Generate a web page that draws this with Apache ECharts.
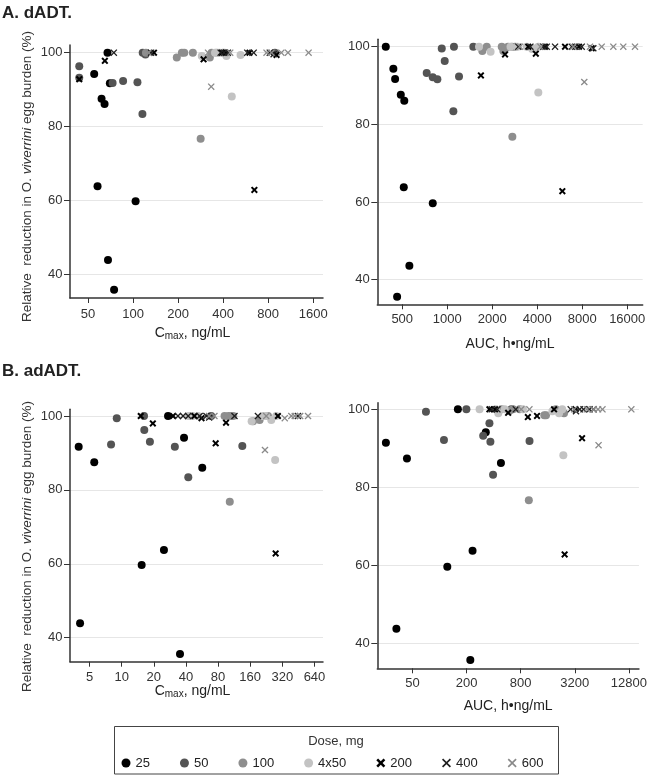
<!DOCTYPE html>
<html><head><meta charset="utf-8">
<script src="https://cdn.jsdelivr.net/npm/echarts@6/dist/echarts.min.js"></script>
<style>html,body{margin:0;padding:0;background:#fff}#c{width:650px;height:777px}</style>
</head><body><div id="c"></div>
<script>
// ---- categories ----
const doseLabels = ['25', '50', '100', '4x50', '200', '400', '600'];
// ---- tick labels ----
const ticksACmax = [50, 100, 200, 400, 800, 1600];
const ticksAAuc = [500, 1000, 2000, 4000, 8000, 16000];
const ticksBCmax = [5, 10, 20, 40, 80, 160, 320, 640];
const ticksBAuc = [50, 200, 800, 3200, 12800];
const yTicks = [40, 60, 80, 100];

// ---- A. dADT, Cmax (ng/mL) vs relative reduction (%) ----
const aCmax25 = [[67.5,100],[55,94.2],[70,91.7],[61.6,87.5],[64.5,86.1],[57.9,63.8],[104,59.7],[68,43.8],[74.7,35.7]];
const aCmax50 = [[116,100],[888,100],[121,99.5],[43.7,96.3],[43.7,93.2],[73,91.8],[85.8,92.3],[107,92.0],[115.5,83.4]];
const aCmax100 = [[122,100],[196,98.7],[212,100],[220,100],[251,100],[326,98.7],[335,100],[400,100],[283,76.7]];
const aCmax4x50 = [[288,99.1],[353,100],[365,100],[378,100],[421,99.1],[523,99.4],[457,88.1],[360,100],[410,100]];
const aCmax200 = [[43.7,92.8],[64.8,97.8],[138,100],[296,98.2],[392,100],[415,100],[600,100],[910,99.4],[647,62.8]];
const aCmax400 = [[74.4,100],[132,100],[385,100],[405,100],[580,100],[640,100],[820,100],[870,99.6],[430,100]];
const aCmax600 = [[127,100],[317,100],[333,90.8],[446,100],[780,100],[842,100],[980,100],[1085,100],[1490,100]];

// ---- A. dADT, AUC (h*ng/mL) ----
const aAuc25 = [[388,100],[436,94.3],[448,91.7],[489,87.6],[516,86.1],[512,63.8],[800,59.7],[558,43.6],[462,35.6]];
const aAuc50 = [[729,93.2],[800,92.1],[859,91.6],[919,99.5],[962,96.3],[1109,100],[1099,83.4],[1199,92.3],[1495,100]];
const aAuc100 = [[1838,100],[1717,98.9],[2374,98.9],[2315,100],[2551,100],[2713,100],[2842,100],[2727,76.8],[2450,99.5]];
const aAuc4x50 = [[1632,100],[1950,98.7],[2650,100],[3403,100],[3867,99.5],[4068,100],[3700,99.4],[4068,88.2],[2950,100]];
const aAuc200 = [[1680,92.6],[2436,98.0],[3915,98.2],[3485,100],[4510,100],[6137,100],[7615,100],[5890,62.8],[9260,99.6]];
const aAuc400 = [[2990,100],[3600,100],[4400,100],[4630,100],[5264,100],[6810,100],[7940,100],[9490,99.6],[7200,100]];
const aAuc600 = [[3070,100],[4200,100],[6975,100],[8260,90.9],[9020,100],[10800,100],[12920,100],[15060,100],[18040,100]];

// ---- B. adADT, Cmax ----
const bCmax25 = [[3.96,91.7],[5.54,87.5],[15.4,59.7],[24.9,63.7],[38.4,94.1],[56.9,86.0],[4.08,43.9],[35.2,35.6],[27.2,100]];
const bCmax50 = [[9.0,99.4],[7.96,92.3],[16.2,100],[16.3,96.2],[18.4,93.0],[31.5,91.7],[42.1,83.4],[135,91.9],[69,100]];
const bCmax100 = [[45,100],[92,100],[100,100],[105,100],[111,100],[235,100],[170,98.6],[196,98.9],[103,76.8]];
const bCmax4x50 = [[42,100],[46,100],[52,100],[165,98.6],[210,100],[252,98.9],[274,88.1],[225,100],[280,100]];
const bCmax200 = [[15.1,100],[19.6,98.0],[30.3,100],[56,99.4],[76,92.6],[95,98.2],[277,62.8],[291,100],[48,100]];
const bCmax400 = [[33.7,100],[37.6,100],[53.8,100],[62.2,100],[114,100],[189,100],[448,100],[42,100],[66,99.6]];
const bCmax600 = [[66,100],[74,100],[226,100],[220,90.8],[337,99.4],[388,100],[418,100],[470,100],[557,100]];

// ---- B. adADT, AUC ----
const bAuc25 = [[25.3,91.4],[43.4,87.4],[33.1,43.7],[122,59.6],[233,63.7],[220,35.7],[327,94.1],[482,86.2],[160,100]];
const bAuc50 = [[70.6,99.4],[112,92.1],[199,100],[306,93.2],[359,96.4],[368,91.7],[394,83.2],[1003,91.9],[630,100]];
const bAuc100 = [[489,100],[600,99.6],[658,100],[779,100],[1465,98.5],[1530,98.5],[1963,100],[2427,99],[985,76.7]];
const bAuc4x50 = [[279,100],[420,100],[450,99],[530,100],[847,100],[2139,99],[2320,100],[2385,88.2],[1800,99.5]];
const bAuc200 = [[359,100],[414,100],[580,99.1],[961,98.0],[1215,98.3],[1880,100],[2465,62.8],[3254,100],[3854,92.6]];
const bAuc400 = [[381,100],[440,100],[705,100],[2880,100],[3630,100],[4000,100],[4670,100],[5170,100],[3300,99.5]];
const bAuc600 = [[811,100],[1000,100],[3140,100],[4350,100],[5190,100],[5800,100],[5880,90.8],[6500,100],[13620,100]];

const panelData = [
  [aCmax25, aCmax50, aCmax100, aCmax4x50, aCmax200, aCmax400, aCmax600],
  [aAuc25, aAuc50, aAuc100, aAuc4x50, aAuc200, aAuc400, aAuc600],
  [bCmax25, bCmax50, bCmax100, bCmax4x50, bCmax200, bCmax400, bCmax600],
  [bAuc25, bAuc50, bAuc100, bAuc4x50, bAuc200, bAuc400, bAuc600]
];
const panelTicks = [ticksACmax, ticksAAuc, ticksBCmax, ticksBAuc];

// ---- layout / style (not data) ----
const FONT = 'Liberation Sans, Arial, sans-serif';
const layout = [
  {left:70, top:45, width:253, height:253, xr:[37.9, 1860], yr:[33.49, 102.09], name:'cmax', nameGap:27, labMargin:10, yname:true, ynamePad:[0,10,0,0]},
  {left:377.3, top:39.3, width:265.4, height:265, xr:[340.5, 20310], yr:[33.67, 101.9], name:'auc', nameGap:32, labMargin:9, yname:false},
  {left:70, top:409.3, width:253, height:252.4, xr:[3.284, 769], yr:[33.5, 101.81], name:'cmax', nameGap:21, labMargin:9, yname:true, ynamePad:[0,22,0,0]},
  {left:377.3, top:402.7, width:265.4, height:265.6, xr:[20.3, 16550], yr:[33.59, 101.69], name:'auc', nameGap:30, labMargin:8.5, yname:false}
];
const XB = 'path://M2,0L5,3L8,0L10,2L7,5L10,8L8,10L5,7L2,10L0,8L3,5L0,2Z';
const XT = 'path://M1.3,0L5,3.7L8.7,0L10,1.3L6.3,5L10,8.7L8.7,10L5,6.3L1.3,10L0,8.7L3.7,5L0,1.3Z';
const doseStyle = [
  {symbol:'circle', size:8, color:'#000000'},
  {symbol:'circle', size:8, color:'#545454'},
  {symbol:'circle', size:8, color:'#8e8e8e'},
  {symbol:'circle', size:8, color:'#c3c3c3'},
  {symbol:XB, size:7, color:'#000000'},
  {symbol:XT, size:7, color:'#1e1e1e'},
  {symbol:XT, size:7, color:'#8a8a8a'}
];

const lg = Math.log2;
const grids = [], xAxes = [], yAxes = [], series = [];
layout.forEach((L, p) => {
  grids.push({left:L.left, top:L.top, width:L.width, height:L.height, containLabel:false});
  const tv = panelTicks[p].map(lg);
  xAxes.push({
    type:'value', gridIndex:p, min:lg(L.xr[0]), max:lg(L.xr[1]),
    name: L.name === 'cmax' ? '{m|C}{s|max}{m|, ng/mL}' : '{m|AUC, h\u2022ng/mL}',
    nameLocation:'middle', nameGap:L.nameGap,
    nameTextStyle:{color:'#222', fontFamily:FONT, fontSize:14,
      padding: L.name === 'cmax' ? [0,8,0,0] : [0,0,0,0],
      rich:{m:{fontSize:14, lineHeight:16, fontFamily:FONT, color:'#222'},
            s:{fontSize:10, lineHeight:8, verticalAlign:'bottom', fontFamily:FONT, color:'#222'}}},
    axisLine:{show:true, onZero:false, lineStyle:{color:'#333', width:1.5}},
    axisTick:{show:true, length:5, customValues:tv, lineStyle:{color:'#333', width:1}},
    axisLabel:{customValues:tv, margin:L.labMargin, fontSize:13, fontFamily:FONT, color:'#333',
      formatter: v => String(Math.round(Math.pow(2, v)))},
    splitLine:{show:false}
  });
  yAxes.push({
    type:'value', gridIndex:p, min:L.yr[0], max:L.yr[1],
    name: L.yname ? '{n|Relative  reduction in O. }{i|viverrini}{n| egg burden (%)}' : '',
    nameLocation:'middle', nameGap:36,
    nameTextStyle:{color:'#333', fontFamily:FONT, fontSize:13.5, padding:L.ynamePad || [0,0,0,0],
      rich:{n:{fontSize:13.5, fontFamily:FONT, color:'#333'}, i:{fontSize:13.5, fontStyle:'italic', fontFamily:FONT, color:'#333'}}},
    axisLine:{show:true, onZero:false, lineStyle:{color:'#333', width:1.5}},
    axisTick:{show:true, length:6, customValues:yTicks, lineStyle:{color:'#333', width:1}},
    axisLabel:{customValues:yTicks, margin:7.5, fontSize:13, fontFamily:FONT, color:'#333'},
    splitLine:{show:true, lineStyle:{color:'#e6e6e6', width:1}}
  });
  panelData[p].forEach((arr, d) => {
    const st = doseStyle[d];
    series.push({
      type:'scatter', name:doseLabels[d], xAxisIndex:p, yAxisIndex:p,
      symbol:st.symbol, symbolSize:st.size, symbolKeepAspect:true,
      itemStyle:{color:st.color, opacity:1},
      data: arr.map(([x, y]) => [lg(x), y]),
      z: 2 + d
    });
  });
});

const chart = echarts.init(document.getElementById('c'), null, {renderer:'canvas'});
chart.setOption({
  animation:false,
  backgroundColor:'#fff',
  title:[
    {text:'A. dADT.', left:2, top:4.5, padding:0, textStyle:{fontSize:17, fontWeight:'bold', color:'#222', fontFamily:FONT}},
    {text:'B. adADT.', left:2, top:363, padding:0, textStyle:{fontSize:17, fontWeight:'bold', color:'#222', fontFamily:FONT}},
    {text:'Dose, mg', left:336, textAlign:'center', top:735, padding:0, textStyle:{fontSize:13, fontWeight:'normal', color:'#333', fontFamily:FONT}}
  ],
  graphic:[{type:'rect', shape:{x:114.5, y:726.5, width:444, height:47.5}, style:{fill:'none', stroke:'#444', lineWidth:1}, silent:true}],
  legend:{data:doseLabels, left:121.5, top:756.5, itemWidth:9, itemHeight:9, itemGap:30, padding:0,
    selectedMode:false, textStyle:{fontSize:13, color:'#222', fontFamily:FONT}},
  grid:grids, xAxis:xAxes, yAxis:yAxes, series:series
});
</script></body></html>
